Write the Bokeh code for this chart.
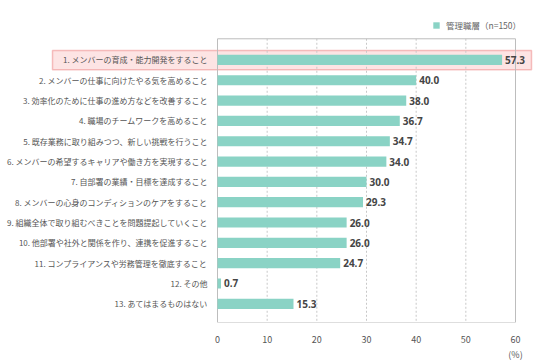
from bokeh.plotting import figure
from bokeh.models import Range1d, FixedTicker, BoxAnnotation, Legend, LegendItem, ColumnDataSource
from bokeh.core.properties import value
from bokeh.embed import file_html
from bokeh.resources import INLINE

labels = [
    "1. メンバーの育成・能力開発をすること",
    "2. メンバーの仕事に向けたやる気を高めること",
    "3. 効率化のために仕事の進め方などを改善すること",
    "4. 職場のチームワークを高めること",
    "5. 既存業務に取り組みつつ、新しい挑戦を行うこと",
    "6. メンバーの希望するキャリアや働き方を実現すること",
    "7. 自部署の業績・目標を達成すること",
    "8. メンバーの心身のコンディションのケアをすること",
    "9. 組織全体で取り組むべきことを問題提起していくこと",
    "10. 他部署や社外と関係を作り、連携を促進すること",
    "11. コンプライアンスや労務管理を徹底すること",
    "12. その他",
    "13. あてはまるものはない",
]
values = [57.3, 40.0, 38.0, 36.7, 34.7, 34.0, 30.0, 29.3, 26.0, 26.0, 24.7, 0.7, 15.3]
x_ticks = [0, 10, 20, 30, 40, 50, 60]
series_name = "管理職層（n=150）"
unit_label = "(%)"
highlight_index = 0

FONT = "Noto Sans CJK JP"
BAR = "#8ad3c5"

# ---- layout geometry (canvas pixels) ----
W, H = 536, 364
BOTTOM = 30
FRAME_H = H - BOTTOM                 # frame spans the figure above the x axis
X0_PX, X60_PX = 217, 515             # canvas x of value 0 and value 60
ROW_PX = 21.08                       # pixels per category row
Y_BOTTOM = 13.92                     # data y at the bottom of the plot box
Y_BOX_TOP = -0.04                    # data y at the top of the plot box
BOX_L_PX, BOX_R_PX = 52, 531         # highlight box edges
ppu = (X60_PX - X0_PX) / (x_ticks[-1] - x_ticks[0])
x_start = -X0_PX / ppu
x_end = x_ticks[-1] + (W - X60_PX) / ppu
y_end = Y_BOTTOM - FRAME_H / ROW_PX

pos = list(range(1, len(labels) + 1))
src = ColumnDataSource(dict(y=pos, v=values, lbl=labels, t=[f"{v:.1f}" for v in values]))

p = figure(width=W, height=H, x_range=Range1d(x_start, x_end), y_range=Range1d(Y_BOTTOM, y_end),
           output_backend="svg", toolbar_location=None, y_axis_location=None,
           min_border_left=0, min_border_right=0, min_border_top=0, min_border_bottom=BOTTOM)
p.outline_line_color = None
p.xgrid.grid_line_color = None
p.ygrid.grid_line_color = None

# highlight box around the first row
hy = pos[highlight_index]
box = BoxAnnotation(left=x_start + BOX_L_PX / ppu, right=x_start + BOX_R_PX / ppu,
                    top=hy - 0.47, bottom=hy + 0.48,
                    fill_color="#fde4e4", fill_alpha=1.0, line_color="#e03a3a",
                    line_width=1.5, level="underlay")
p.add_layout(box)

# dotted vertical grid lines inside the plot box
gx = x_ticks[1:-1]
p.segment(x0=gx, x1=gx, y0=[Y_BOX_TOP] * len(gx), y1=[Y_BOTTOM] * len(gx),
          line_color="#c8c8c8", line_width=1, line_dash="2 2")

# plot-area box
p.quad(left=x_ticks[0], right=x_ticks[-1], top=Y_BOX_TOP, bottom=Y_BOTTOM,
       fill_alpha=0, line_color="#bdbdbd", line_width=1)

r = p.hbar(y="y", right="v", left=0, height=0.5, source=src, color=BAR, line_color=None)

# category labels
p.text(x=0, y="y", text="lbl", source=src, x_offset=-10, text_align="right",
       text_baseline="middle", text_font=value(FONT), text_font_size="8px",
       text_color="#555555")

# value labels
p.text(x="v", y="y", text="t", source=src, x_offset=3, text_align="left",
       text_baseline="middle", text_font=value("Noto Sans"), text_font_size="10px",
       text_font_style="bold", text_color="#454545")

# x axis
p.xaxis.ticker = FixedTicker(ticks=x_ticks)
p.xaxis.major_label_overrides = {x_ticks[-1]: f"{x_ticks[-1]}\n{unit_label}"}
p.xaxis.axis_line_color = None
p.xaxis.major_tick_line_color = None
p.xaxis.minor_tick_line_color = None
p.xaxis.major_label_text_font = FONT
p.xaxis.major_label_text_font_size = "9px"
p.xaxis.major_label_text_color = "#555555"
p.xaxis.major_label_standoff = 4

legend = Legend(items=[LegendItem(label=series_name, renderers=[r])],
                location=(432, FRAME_H - 43), orientation="horizontal",
                label_text_font=FONT, label_text_font_size="8.5px", label_text_color="#666666",
                glyph_width=8, glyph_height=8, label_standoff=6, padding=0, margin=0,
                border_line_color=None, background_fill_alpha=0, label_height=10)
p.add_layout(legend)

open("out.html", "w").write(file_html(p, INLINE))
